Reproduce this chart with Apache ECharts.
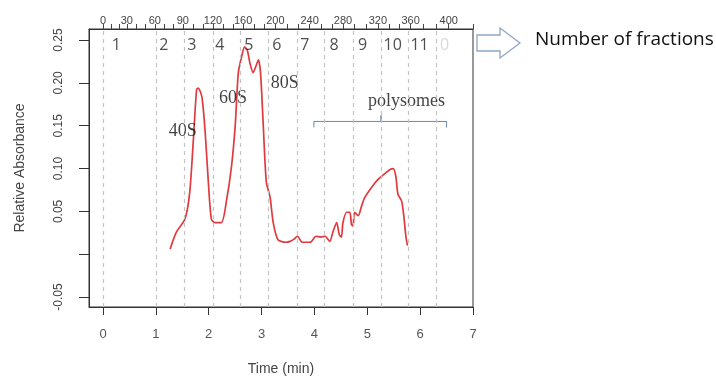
<!DOCTYPE html>
<html>
<head>
<meta charset="utf-8">
<script src="https://cdn.jsdelivr.net/npm/echarts@6/dist/echarts.min.js"></script>
<style>html,body{margin:0;padding:0;background:#fff}#c{width:716px;height:376px}</style>
</head>
<body>
<div id="c"></div>
<script>
// ---- data ----
const timeMin = [1.27,1.39,1.55,1.64,1.71,1.77,1.80,1.87,1.93,1.99,2.05,2.12,2.24,2.34,2.43,2.50,2.56,2.62,2.68,2.73,2.78,2.84,2.89,2.94,2.98,3.03,3.09,3.16,3.22,3.31,3.47,3.54,3.60,3.68,3.77,3.92,4.03,4.12,4.20,4.29,4.35,4.42,4.47,4.51,4.54,4.61,4.67,4.70,4.73,4.76,4.83,4.89,4.95,5.08,5.20,5.33,5.43,5.49,5.54,5.58,5.65,5.69,5.73,5.76];
const absorbance = [0.006,0.026,0.041,0.072,0.134,0.192,0.194,0.184,0.145,0.087,0.041,0.037,0.037,0.064,0.102,0.149,0.212,0.230,0.242,0.238,0.223,0.212,0.219,0.227,0.212,0.153,0.084,0.067,0.037,0.017,0.014,0.015,0.017,0.021,0.014,0.014,0.021,0.020,0.021,0.015,0.026,0.037,0.023,0.020,0.037,0.049,0.049,0.035,0.033,0.049,0.045,0.056,0.066,0.078,0.087,0.094,0.099,0.100,0.091,0.070,0.062,0.045,0.021,0.010];

const fractionBoundaries = [0,1.0,1.53,2.08,2.59,3.12,3.67,4.18,4.73,5.26,5.77,6.31];
const fractionNumbers = ['1','2','3','4','5','6','7','8','9','10','11','0'];
const fractionLabelTimes = [0.25,1.15,1.68,2.21,2.76,3.29,3.82,4.37,4.91,5.48,5.99,6.46];

const volumeTickLabels = ['0','30','60','90','120','160','200','240','280','320','360','400'];
const volumeTickTimes = [0,0.45,0.98,1.51,2.08,2.65,3.26,3.91,4.54,5.20,5.82,6.54];

const xTickValues = [0,1,2,3,4,5,6,7];
const yTickValues = [-0.05,0,0.05,0.10,0.15,0.20,0.25];
const yLabelValues = [-0.05,0.05,0.10,0.15,0.20,0.25];

const peakNames = ['40S','60S','80S','polysomes'];
const peakNameTimes = [1.51,2.46,3.44,5.74];
const peakNameValues = [0.144,0.182,0.200,0.179];

const bracketTimes = [3.99,3.99,5.26,5.26,5.26,6.50,6.50];
const bracketValues = [0.148,0.155,0.155,0.162,0.155,0.155,0.148];

// ---- chart ----
const minorVol = [];
for (let i = 0; i < volumeTickTimes.length - 1; i++) {
  const a = volumeTickTimes[i], b = volumeTickTimes[i+1];
  minorVol.push(a + (b - a) / 3, a + 2 * (b - a) / 3);
}
const topTicks = volumeTickTimes.concat(minorVol).concat([7]).sort((a,b)=>a-b);

const chart = echarts.init(document.getElementById('c'));
const sans = 'Liberation Sans';
const axisLineStyle = { show: true, onZero: false, lineStyle: { color: '#333', width: 1 } };
chart.setOption({
  animation: false,
  backgroundColor: '#fff',
  grid: { left: 89, right: 243, top: 29, bottom: 69, outerBoundsMode: 'none', containLabel: false,
    show: true, borderColor: '#333', borderWidth: 1, backgroundColor: 'transparent' },
  xAxis: [{
    type: 'value', min: -0.265, max: 7, position: 'bottom',
    name: 'Time (min)', nameLocation: 'middle', nameGap: 55,
    nameTextStyle: { fontFamily: sans, fontSize: 14, color: '#444' },
    axisLine: axisLineStyle,
    axisTick: { show: true, length: 8, lineStyle: { color: '#333' }, customValues: xTickValues },
    axisLabel: { customValues: xTickValues, margin: 21, fontFamily: sans, fontSize: 13, color: '#555' },
    splitLine: { show: false }
  }, {
    type: 'value', min: -0.265, max: 7, position: 'top',
    axisLine: axisLineStyle,
    axisTick: { show: true, length: 5, lineStyle: { color: '#444' }, customValues: topTicks },
    axisLabel: {
      customValues: volumeTickTimes, margin: 3, fontFamily: sans, fontSize: 11, color: '#444',
      formatter: function (v) {
        let best = 0;
        for (let i = 0; i < volumeTickTimes.length; i++) if (Math.abs(volumeTickTimes[i]-v) < Math.abs(volumeTickTimes[best]-v)) best = i;
        return volumeTickLabels[best];
      }
    },
    splitLine: { show: false }
  }],
  yAxis: {
    type: 'value', min: -0.0616, max: 0.2629,
    name: 'Relative Absorbance', nameLocation: 'middle', nameGap: 62,
    nameTextStyle: { fontFamily: sans, fontSize: 14, color: '#444' },
    axisLine: axisLineStyle,
    axisTick: { show: true, length: 10, lineStyle: { color: '#333' }, customValues: yTickValues },
    axisLabel: { customValues: yLabelValues, rotate: 90, margin: 24, fontFamily: sans, fontSize: 12, color: '#444',
      formatter: function (v) { return v.toFixed(2); } },
    splitLine: { show: false }
  },
  series: [{
    type: 'line', name: 'absorbance', xAxisIndex: 0,
    data: timeMin.map((t, i) => [t, absorbance[i]]),
    symbol: 'none', smooth: 0.25,
    lineStyle: { color: '#e03a3e', width: 1.7 },
    markLine: {
      silent: true, symbol: 'none', label: { show: false },
      lineStyle: { color: '#c4c4c4', type: [4, 4], width: 1.2 },
      data: fractionBoundaries.map(b => ({ xAxis: b }))
    },
    z: 3
  }, {
    type: 'line', name: 'bracket', xAxisIndex: 0,
    data: bracketTimes.map((t, i) => [t, bracketValues[i]]),
    symbol: 'none', lineStyle: { color: '#6a88b0', width: 1 }, z: 2
  }, {
    type: 'scatter', name: 'fractions', xAxisIndex: 0,
    data: fractionLabelTimes.map((t, i) => ({ value: [t, 0.244], name: fractionNumbers[i],
      label: { color: i === fractionNumbers.length - 1 ? '#cfcfcf' : '#222' } })),
    symbolSize: 1, itemStyle: { color: 'transparent' },
    label: { show: true, position: 'inside', formatter: '{b}', fontFamily: 'Open Sans', fontSize: 16 }, z: 4
  }, {
    type: 'scatter', name: 'peaks', xAxisIndex: 0,
    data: peakNameTimes.map((t, i) => ({ value: [t, peakNameValues[i]], name: peakNames[i] })),
    symbolSize: 1, itemStyle: { color: 'transparent' },
    label: { show: true, position: 'inside', formatter: '{b}', fontFamily: 'Liberation Serif', fontSize: 18, color: '#111' }, z: 4
  }],
  graphic: [{
    type: 'polygon',
    shape: { points: [[477,35],[500,35],[500,28],[520,43],[500,58],[500,51],[477,51]] },
    style: { fill: '#fff', stroke: '#8ea6c6', lineWidth: 1.3 }
  }, {
    type: 'text', left: 535, top: 30,
    style: { text: 'Number of fractions', font: '19px "Open Sans"', fill: '#111' }
  }]
});
</script>
</body>
</html>
